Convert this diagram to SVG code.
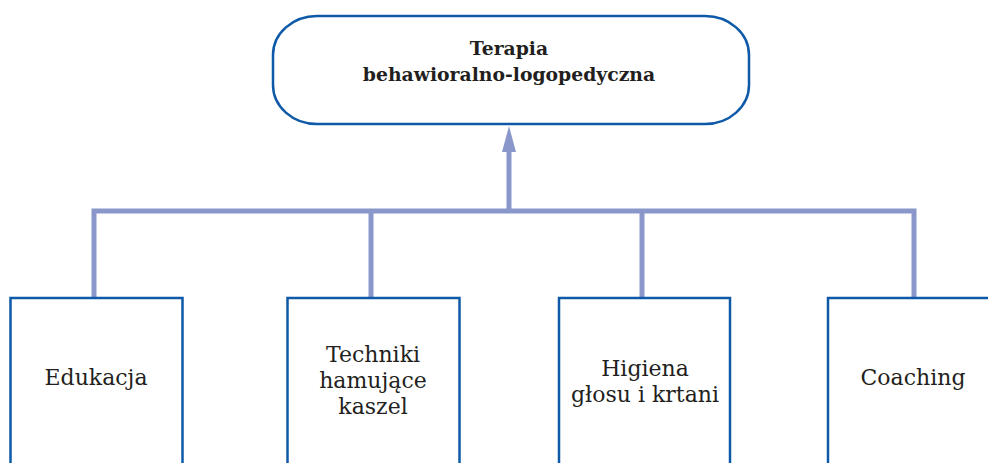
<svg xmlns="http://www.w3.org/2000/svg" width="988" height="463" viewBox="0 0 988 463">
<style>
.node{fill:#fff;stroke:#0f5aa8;stroke-width:2.5}
.conn{fill:none;stroke:#8a97cb;stroke-width:5}
.lbl{font-family:"DejaVu Serif","Liberation Serif",serif;font-size:22px;fill:#231f20;text-anchor:middle}
.ttl{font-family:"DejaVu Serif","Liberation Serif",serif;font-size:18.8px;font-weight:bold;fill:#231f20;text-anchor:middle}
</style>
<rect width="988" height="463" fill="#fff"/>
<g id="connectors">
<path class="conn" d="M94,297 V211 H914 V297"/>
<path class="conn" d="M371,211 V297"/>
<path class="conn" d="M642,211 V297"/>
<path class="conn" d="M509,211 V150"/>
<polygon points="509,126 516,152 502,152" fill="#8a97cb"/>
</g>
<g id="root">
<rect class="node" x="273" y="16" width="476" height="108" rx="44" ry="39"/>
<text class="ttl" x="509" y="55">Terapia</text>
<text class="ttl" x="509" y="81">behawioralno-logopedyczna</text>
</g>
<g id="edukacja">
<rect class="node" x="10.5" y="298" width="172" height="180"/>
<text class="lbl" x="96" y="385">Edukacja</text>
</g>
<g id="techniki">
<rect class="node" x="287.5" y="298" width="172" height="180"/>
<text class="lbl" x="373" y="362">Techniki</text>
<text class="lbl" x="373" y="388">hamujące</text>
<text class="lbl" x="373" y="414">kaszel</text>
</g>
<g id="higiena">
<rect class="node" x="559" y="298" width="171" height="180"/>
<text class="lbl" x="645" y="376">Higiena</text>
<text class="lbl" x="645" y="402">głosu i krtani</text>
</g>
<g id="coaching">
<rect class="node" x="828" y="298" width="172" height="180"/>
<text class="lbl" x="913" y="385">Coaching</text>
</g>
</svg>
